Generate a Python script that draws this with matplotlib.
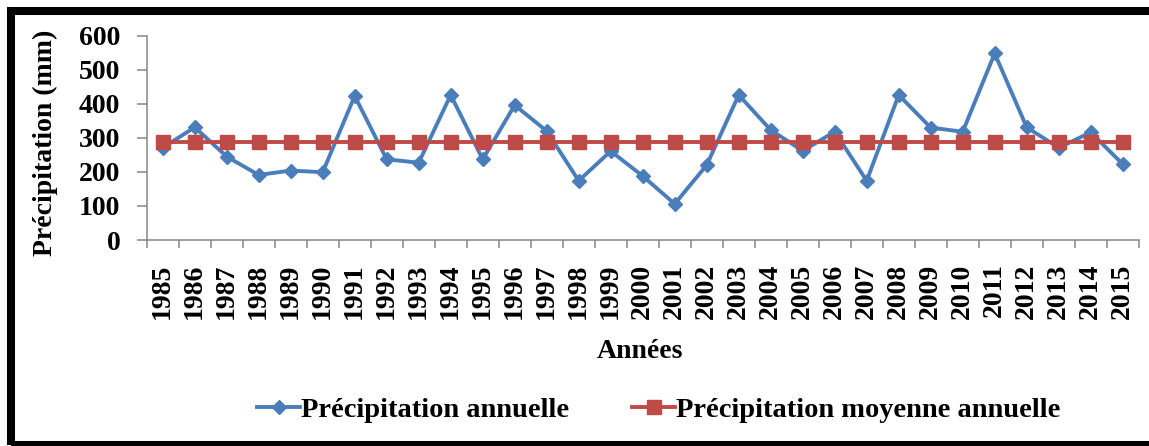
import numpy as np
import matplotlib
matplotlib.use("Agg")
import matplotlib.pyplot as plt
from matplotlib.patches import Rectangle

# Annual rainfall series (mm), 1985-2015
years = [str(y) for y in range(1985, 2016)]
precip_annual = [271, 331, 245, 191, 204, 199, 423, 237, 227, 426,
                 237, 396, 320, 174, 261, 188, 106, 220, 426, 323,
                 262, 318, 174, 426, 330, 318, 548, 331, 271, 316, 223]
mean_value = float(np.mean(precip_annual))
precip_mean = [mean_value] * len(years)

y_ticks = [0, 100, 200, 300, 400, 500, 600]

plt.rcParams['font.family'] = ['Liberation Serif', 'DejaVu Serif']
plt.rcParams['font.weight'] = 'bold'

W, H = 1149, 446
fig = plt.figure(figsize=(W / 100, H / 100), dpi=100)
left, right, bottom, top = 146.7, 1138.7, 240.0, 35.7
ax = fig.add_axes([left / W, 1 - bottom / H, (right - left) / W, (bottom - top) / H])

x = np.arange(len(years))
blue = '#4A7EBB'
red = '#BE4B48'
ax.plot(x, precip_annual, color=blue, lw=2.8, marker='D', ms=6.8,
        label='Précipitation annuelle', zorder=3)
ax.plot(x, precip_mean, color=red, lw=2.8, marker='s', ms=9.4,
        label='Précipitation moyenne annuelle', zorder=4)

ax.set_xlim(-0.5, len(years) - 0.5)
ax.set_ylim(0, 600)
ax.set_yticks(y_ticks)
ax.set_yticklabels([str(v) for v in y_ticks])
ax.set_xticks(np.arange(len(years) + 1) - 0.5, minor=False)
ax.set_xticklabels([])
ax.set_xticks(x, minor=True)
ax.set_xticklabels(years, minor=True, rotation=90)

spine_col = '#868686'
for s in ['top', 'right']:
    ax.spines[s].set_visible(False)
for s in ['left', 'bottom']:
    ax.spines[s].set_color(spine_col)
    ax.spines[s].set_linewidth(1.1)

ax.tick_params(axis='y', which='major', direction='out', length=7, width=1.1,
               color=spine_col, pad=12, labelsize=20)
ax.tick_params(axis='x', which='major', direction='out', length=6, width=1.1,
               color=spine_col)
ax.tick_params(axis='x', which='minor', length=0, pad=17, labelsize=20)

ax.set_xlabel('Années', fontsize=20, fontweight='bold', va='center')
ax.xaxis.set_label_coords(0.497, -0.548)
ax.set_ylabel('Précipitation (mm)', fontsize=20, fontweight='bold', va='center')
ax.yaxis.set_label_coords(-0.1025, 0.478)

fig.legend(loc='center', bbox_to_anchor=(659 / W, 1 - 410 / H), ncol=2,
           frameon=False, handlelength=1.5, handletextpad=0.05,
           columnspacing=2.2, prop={'weight': 'bold', 'size': 20.5})

# Heavy frame around the whole figure
fig.add_artist(Rectangle((10.5 / W, 1 - 444.5 / H), 1.05, (444.5 - 11) / H,
                         transform=fig.transFigure, fill=False,
                         edgecolor='black', lw=5.8, zorder=10))

fig.savefig('out.png', dpi=100)
